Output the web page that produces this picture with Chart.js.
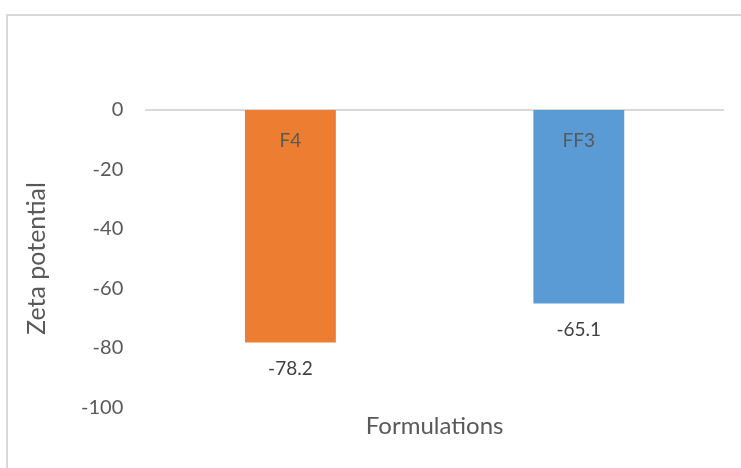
<!DOCTYPE html>
<html>
<head>
<meta charset="utf-8">
<script src="https://cdn.jsdelivr.net/npm/chart.js@4"></script>
<style>
  html, body { margin: 0; padding: 0; background: #fff; }
  #wrap { position: relative; width: 741px; height: 468px; overflow: hidden; }
  #frame {
    position: absolute; left: 6px; top: 14px; width: 800px; height: 500px;
    border: 2px solid #d9d9d9; box-sizing: border-box;
  }
  canvas { position: absolute; left: 0; top: 0; }
</style>
</head>
<body>
<div id="wrap">
  <div id="frame"></div>
  <canvas id="chart" width="741" height="468"></canvas>
</div>
<script>
/* ========= Data ========= */
const categories = ['F4', 'FF3'];
const zetaValues = [-78.2, -65.1];
const barColors  = ['#ED7D31', '#5B9BD5'];
const yMin = -100, yMax = 0, yStep = 20;

const FONT = 'Lato, "Open Sans", sans-serif';

// category names sit on top of the bars, value labels under the bar ends
const barLabels = {
  id: 'barLabels',
  afterDatasetsDraw(chart) {
    const ctx = chart.ctx;
    const xScale = chart.scales.x;
    const zeroY = chart.scales.y.getPixelForValue(0);
    const meta = chart.getDatasetMeta(0);
    ctx.save();
    ctx.textAlign = 'center';
    ctx.textBaseline = 'middle';
    ctx.font = '19px ' + FONT;
    ctx.fillStyle = '#595959';
    categories.forEach((c, i) => {
      ctx.fillText(c, xScale.getPixelForTick(i), zeroY + 31);
    });
    ctx.fillStyle = '#404040';
    meta.data.forEach((bar, i) => {
      ctx.fillText(zetaValues[i].toFixed(1), bar.x, bar.y + 26);
    });
    ctx.restore();
  }
};

new Chart(document.getElementById('chart'), {
  type: 'bar',
  data: {
    labels: categories,
    datasets: [{
      data: zetaValues,
      backgroundColor: barColors,
      borderWidth: 0,
      barPercentage: 0.315,
      categoryPercentage: 1
    }]
  },
  options: {
    responsive: false,
    animation: false,
    layout: { padding: { top: 110, right: 18, left: 22, bottom: 0 } },
    plugins: {
      legend: { display: false },
      tooltip: { enabled: false }
    },
    scales: {
      x: {
        position: { y: 0 },
        grid: { display: false, drawTicks: false },
        border: { display: true, color: '#d9d9d9', width: 2 },
        ticks: { display: false }
      },
      // bottom axis only carries the title, centred under the plot
      xTitle: {
        type: 'category',
        position: 'bottom',
        grid: { display: false, drawTicks: false },
        border: { display: false },
        ticks: { display: false },
        title: {
          display: true,
          text: 'Formulations',
          color: '#595959',
          font: { family: FONT, size: 24, weight: 'normal' },
          padding: { top: 5, bottom: 27 }
        }
      },
      y: {
        min: yMin,
        max: yMax,
        grid: { display: false, drawTicks: false },
        border: { display: false },
        ticks: {
          stepSize: yStep,
          color: '#595959',
          font: { family: FONT, size: 20 },
          padding: 23
        },
        title: {
          display: true,
          text: 'Zeta potential',
          color: '#595959',
          font: { family: FONT, size: 25, weight: 'normal' },
          padding: { top: 0, bottom: 6 }
        }
      }
    }
  },
  plugins: [barLabels]
});
</script>
</body>
</html>
